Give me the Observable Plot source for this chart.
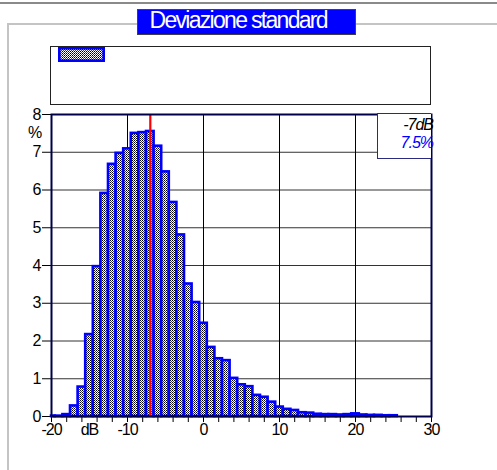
<!DOCTYPE html>
<html>
<head>
<meta charset="utf-8">
<script src="https://cdn.jsdelivr.net/npm/d3@7"></script>
<script src="https://cdn.jsdelivr.net/npm/@observablehq/plot@0.6"></script>
<style>
  body { margin: 0; background: #fff; font-family: "Liberation Sans", Arial, sans-serif; }
  #wrap { position: relative; width: 497px; height: 470px; overflow: hidden; background: #fff; }
  #wrap > * { position: absolute; }
  #chart { left: 0; top: 0; }
  .topline { left: 0; top: 1.5px; width: 497px; height: 2px; background: #8a8a8a; }
  .paneltop { left: 7px; top: 23px; width: 490px; height: 1.5px; background: #c4c4c4; }
  .panelleft { left: 7px; top: 23px; width: 1.5px; height: 447px; background: #c4c4c4; }
  .title { left: 136.5px; top: 9px; width: 219px; height: 26px; background: #0000ff;
           border: 1px solid #404040; box-sizing: border-box; color: #fff;
           font-size: 23px; letter-spacing: -1.7px; line-height: 20px; padding-left: 12px; white-space: nowrap; }
  .legend { left: 50px; top: 46px; width: 381px; height: 59px; border: 1px solid #222; box-sizing: border-box; background: #fff; }
  .swatch { left: 58px; top: 47px; width: 47px; height: 15px; }
  .annot { left: 377px; top: 113px; width: 54px; height: 46px; border: 1.5px solid #2a2a80; border-right: none;
           box-sizing: border-box; background: #fff; overflow: visible; }
  .annot span { position: absolute; right: -2px; font-style: italic; font-size: 16px; letter-spacing: -1px; white-space: nowrap; line-height: 16px; }
</style>
</head>
<body>
<svg width="0" height="0" style="position:absolute">
  <defs>
    <pattern id="checker" width="2" height="2" patternUnits="userSpaceOnUse">
      <rect width="2" height="2" fill="#ffffff"></rect>
      <rect width="1" height="1" fill="#000000"></rect>
      <rect x="1" y="1" width="1" height="1" fill="#404040"></rect>
    </pattern>
  </defs>
</svg>
<div id="wrap"></div>
<script>
// ---- data ----
const titleText = "Deviazione standard";
const binCenters = [-20,-19,-18,-17,-16,-15,-14,-13,-12,-11,-10,-9,-8,-7,-6,-5,-4,-3,-2,-1,0,
                    1,2,3,4,5,6,7,8,9,10,11,12,13,14,15,16,17,18,19,20,21,22,23,24,25];
const percents = [0.01,0.01,0.05,0.28,0.78,2.17,3.97,5.91,6.68,6.97,7.09,7.50,7.52,7.55,7.16,6.48,5.67,4.81,3.51,3.02,2.47,
                  1.83,1.53,1.48,1.01,0.84,0.79,0.56,0.51,0.38,0.25,0.19,0.16,0.10,0.09,0.06,0.05,0.05,0.04,0.05,0.07,0.04,0.03,0.03,0.02,0.02];
const xDomain = [-20, 30];
const yDomain = [0, 8];
const xMajorTicks = [-20, -10, 0, 10, 20, 30];
const xMinorStep = 2;
const yTicks = [0,1,2,3,4,5,6,7,8];
const xGrid = [-10, 0, 10, 20];
const yGrid = [1,2,3,4,5,6,7];
const markerDb = -7;
const markerPct = 7.5;
const xUnit = "dB";
const xUnitAt = -15;
const yUnit = "%";

const rows = binCenters.map((c, i) => ({
  x1: Math.max(c - 0.5, xDomain[0]),
  x2: Math.min(c + 0.5, xDomain[1]),
  v: percents[i]
}));

const chart = Plot.plot({
  width: 497,
  height: 470,
  marginLeft: 51,
  marginRight: 66,
  marginTop: 114,
  marginBottom: 54,
  style: { fontFamily: "'Liberation Sans', Arial, sans-serif", fontSize: "16px", letterSpacing: "-1px", color: "#000", background: "transparent", overflow: "visible" },
  x: {
    domain: xDomain,
    ticks: d3.range(xDomain[0], xDomain[1] + 1, xMinorStep),
    tickFormat: d => (xMajorTicks.includes(d) ? String(d) : ""),
    tickSize: 6,
    tickPadding: 1,
    label: null
  },
  y: {
    domain: yDomain,
    ticks: yTicks,
    tickFormat: d => String(d),
    tickSize: 9,
    tickPadding: 2,
    label: null
  },
  marks: [
    Plot.ruleY(yGrid, { stroke: "#333", strokeWidth: 1 }),
    Plot.ruleX(xGrid, { stroke: "#000", strokeWidth: 1 }),
    Plot.rectY(rows, { x1: "x1", x2: "x2", y: "v", fill: "url(#checker)", stroke: "#0000ff", strokeWidth: 2.6, inset: 0 }),
    Plot.ruleX([markerDb], { stroke: "#ff0000", strokeWidth: 2.2 }),
    Plot.frame({ stroke: "#00004a", strokeWidth: 2 }),
    Plot.text([xUnit], { x: () => xUnitAt, text: d => d, frameAnchor: "bottom", dy: 13, lineAnchor: "middle", fontSize: 16 }),
    Plot.text([yUnit], { text: d => d, frameAnchor: "top-left", dx: -17, dy: 18, textAnchor: "middle", lineAnchor: "middle", fontSize: 16 })
  ]
});
chart.id = "chart";

const wrap = document.getElementById("wrap");
wrap.appendChild(chart);

function div(cls, html) {
  const d = document.createElement("div");
  d.className = cls;
  if (html) d.innerHTML = html;
  wrap.appendChild(d);
  return d;
}
div("topline");
div("paneltop");
div("panelleft");
const t = div("title");
t.textContent = titleText;
div("legend");
div("swatch", '<svg width="47" height="15"><rect x="1.3" y="1.3" width="44.4" height="12.4" fill="url(#checker)" stroke="#0000ff" stroke-width="2.6"></rect></svg>');
const a = div("annot");
const s1 = document.createElement("span");
s1.style.top = "3px"; s1.style.color = "#000";
s1.textContent = markerDb + "dB";
const s2 = document.createElement("span");
s2.style.top = "21px"; s2.style.color = "#0000ff";
s2.textContent = markerPct + "%";
a.appendChild(s1); a.appendChild(s2);
</script>
</body>
</html>
